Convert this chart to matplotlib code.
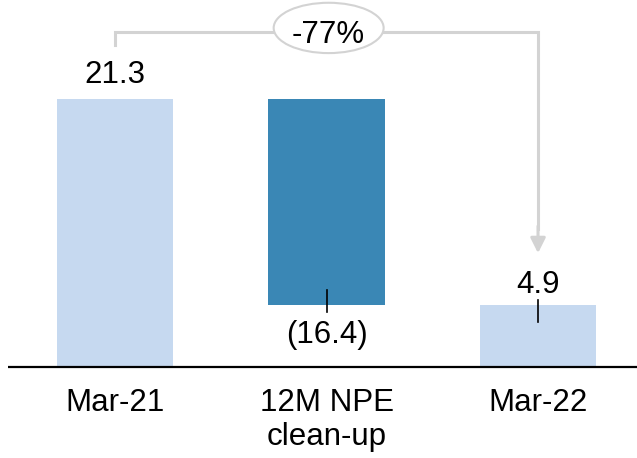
import matplotlib
matplotlib.use("Agg")
import matplotlib.pyplot as plt
from matplotlib.patches import Ellipse

# waterfall data
categories = ["Mar-21", "12M NPE\nclean-up", "Mar-22"]
start_value = 21.3
change = -16.4
end_value = 4.9
value_labels = ["21.3", "(16.4)", "4.9"]
pct_label = "-77%"

light = "#c6d9f0"
dark = "#3a87b5"
grey = "#d3d3d3"

plt.rcParams['font.family'] = ['Liberation Sans', 'DejaVu Sans']

fig = plt.figure(figsize=(6.37, 4.58), dpi=100)
ax = fig.add_axes([0, 0, 1, 1])
ax.set_xlim(-0.544, 2.468)
ax.set_ylim(-7.23, 29.17)
ax.axis('off')

x = [0, 1, 2]
bottoms = [0, start_value + change, 0]
heights = [start_value, -change, end_value]
ax.bar(x, heights, bottom=bottoms, width=0.55, color=[light, dark, light])

# baseline
ax.plot([-0.505, 2.468], [0, 0], color="black", lw=1.6, solid_capstyle='butt')

fs = 22.5
ax.text(0, start_value + 1.28, value_labels[0], ha='center', va='baseline', fontsize=fs)
ax.text(1, start_value + change - 2.99, value_labels[1], ha='center', va='baseline', fontsize=fs)
ax.text(2, end_value + 0.98, value_labels[2], ha='center', va='baseline', fontsize=fs)

# small connector ticks
ax.plot([1, 1], [start_value + change + 1.2, start_value + change - 0.5], color="black", lw=1.2)
ax.plot([2, 2], [end_value + 0.4, end_value - 1.3], color="black", lw=1.2)

# category labels, one text per line
for xi, lab in zip(x, categories):
    for k, line in enumerate(lab.split("\n")):
        ax.text(xi, -3.5 - 2.7 * k, line, ha='center', va='baseline', fontsize=fs)

# bracket with arrow showing the change
top_y = 26.6
ax.plot([0, 0, 2, 2], [25.6, top_y, top_y, 11.0], color=grey, lw=2.2, solid_joinstyle='miter')
ax.annotate("", xy=(2, 9.05), xytext=(2, 11.2),
            arrowprops=dict(arrowstyle='-|>,head_length=0.9,head_width=0.45',
                            color=grey, lw=2.2, shrinkA=0, shrinkB=0))
ax.add_patch(Ellipse((1.01, 26.95), 0.52, 4.0, facecolor='white', edgecolor=grey, lw=1.5, zorder=3))
ax.text(1.01, 25.75, pct_label, ha='center', va='baseline', fontsize=fs, zorder=4)

fig.savefig("out.png", dpi=100)
